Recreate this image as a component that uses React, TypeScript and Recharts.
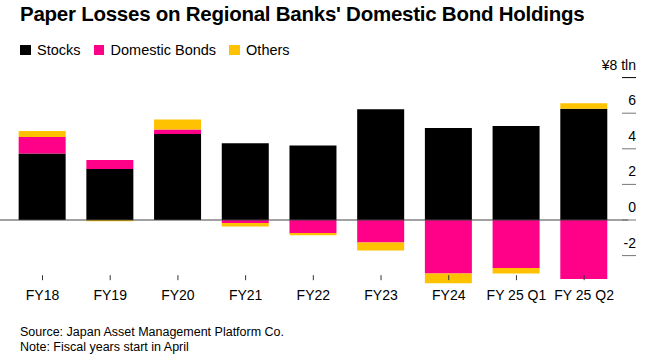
import React from "react";
import { BarChart, Bar, XAxis, YAxis, ReferenceLine } from "recharts";

const categories = ["FY18", "FY19", "FY20", "FY21", "FY22", "FY23", "FY24", "FY 25 Q1", "FY 25 Q2"];
const stocks = [3.74, 2.86, 4.83, 4.31, 4.19, 6.22, 5.17, 5.28, 6.25];
const bonds = [0.92, 0.51, 0.26, -0.17, -0.73, -1.27, -3.0, -2.7, -3.31];
const others = [0.34, -0.07, 0.56, -0.2, -0.13, -0.45, -0.56, -0.31, 0.31];
const yTicks = [-2, 0, 2, 4, 6, 8];

const COLORS = { stocks: "#000000", bonds: "#ff0088", others: "#ffc200" };
const FONT = "'Liberation Sans', Arial, Helvetica, sans-serif";

const data = categories.map((name, i) => ({
  name,
  stocks: stocks[i],
  bonds: bonds[i],
  others: others[i],
}));

const legendItems = [
  { label: "Stocks", color: COLORS.stocks },
  { label: "Domestic Bonds", color: COLORS.bonds },
  { label: "Others", color: COLORS.others },
];

const XTick = (props: any) => {
  const { x, y, payload } = props;
  return (
    <g>
      <line x1={x} x2={x} y1={y - 16} y2={y - 11} stroke="#333" strokeWidth={1} />
      <text x={x} y={y + 9} textAnchor="middle" fontSize={14} fontFamily={FONT} fill="#000">
        {payload.value}
      </text>
    </g>
  );
};

const YTick = (props: any) => {
  const { x, y, payload } = props;
  const label = payload.value === 8 ? "¥8 tln" : String(payload.value);
  return (
    <g>
      <line x1={x + 4} x2={x + 18} y1={y} y2={y} stroke={payload.value === 8 ? "#000" : "#777"} strokeWidth={1} />
      <text x={x + 18} y={y - 8} textAnchor="end" fontSize={14} fontFamily={FONT} fill="#000">
        {label}
      </text>
    </g>
  );
};

const ZeroLine = (props: any) => {
  const { x1, x2, y1, y2 } = props;
  return <line x1={x1 + 10.35} x2={x2 - 10.35} y1={y1} y2={y2} stroke="#444" strokeWidth={1} />;
};

const App = () => {
  return (
    <div
      style={{
        position: "absolute",
        left: 0,
        top: 0,
        width: 653,
        height: 360,
        background: "#fff",
        fontFamily: FONT,
        overflow: "hidden",
      }}
    >
      <div
        style={{
          position: "absolute",
          left: 20,
          top: 2,
          fontSize: 20.5,
          fontWeight: 700,
          letterSpacing: -0.25,
          whiteSpace: "nowrap",
        }}
      >
        Paper Losses on Regional Banks' Domestic Bond Holdings
      </div>
      <div style={{ position: "absolute", left: 20, top: 42, display: "flex", fontSize: 14.5 }}>
        {legendItems.map((item) => (
          <div key={item.label} style={{ display: "flex", alignItems: "center", marginRight: 13 }}>
            <span style={{ width: 10.5, height: 10.5, background: item.color, marginRight: 6.5 }} />
            <span>{item.label}</span>
          </div>
        ))}
      </div>
      <BarChart
        width={653}
        height={360}
        data={data}
        stackOffset="sign"
        margin={{ top: 77.6, right: 0, left: 8.65, bottom: 38.8 }}
      >
        <XAxis
          dataKey="name"
          axisLine={false}
          tickLine={false}
          tickSize={0}
          tickMargin={0}
          height={30}
          interval={0}
          tick={<XTick />}
        />
        <YAxis
          orientation="right"
          width={35}
          domain={[-4, 8]}
          ticks={yTicks}
          axisLine={false}
          tickLine={false}
          tickSize={0}
          tickMargin={0}
          tick={<YTick />}
        />
        <Bar dataKey="stocks" stackId="a" fill={COLORS.stocks} barSize={47} isAnimationActive={false} />
        <Bar dataKey="bonds" stackId="a" fill={COLORS.bonds} barSize={47} isAnimationActive={false} />
        <Bar dataKey="others" stackId="a" fill={COLORS.others} barSize={47} isAnimationActive={false} />
        <ReferenceLine y={0} shape={<ZeroLine />} />
      </BarChart>
      <div style={{ position: "absolute", left: 20, top: 325, fontSize: 12.5, lineHeight: "15px" }}>
        <div>Source: Japan Asset Management Platform Co.</div>
        <div>Note: Fiscal years start in April</div>
      </div>
    </div>
  );
};

export default App;
